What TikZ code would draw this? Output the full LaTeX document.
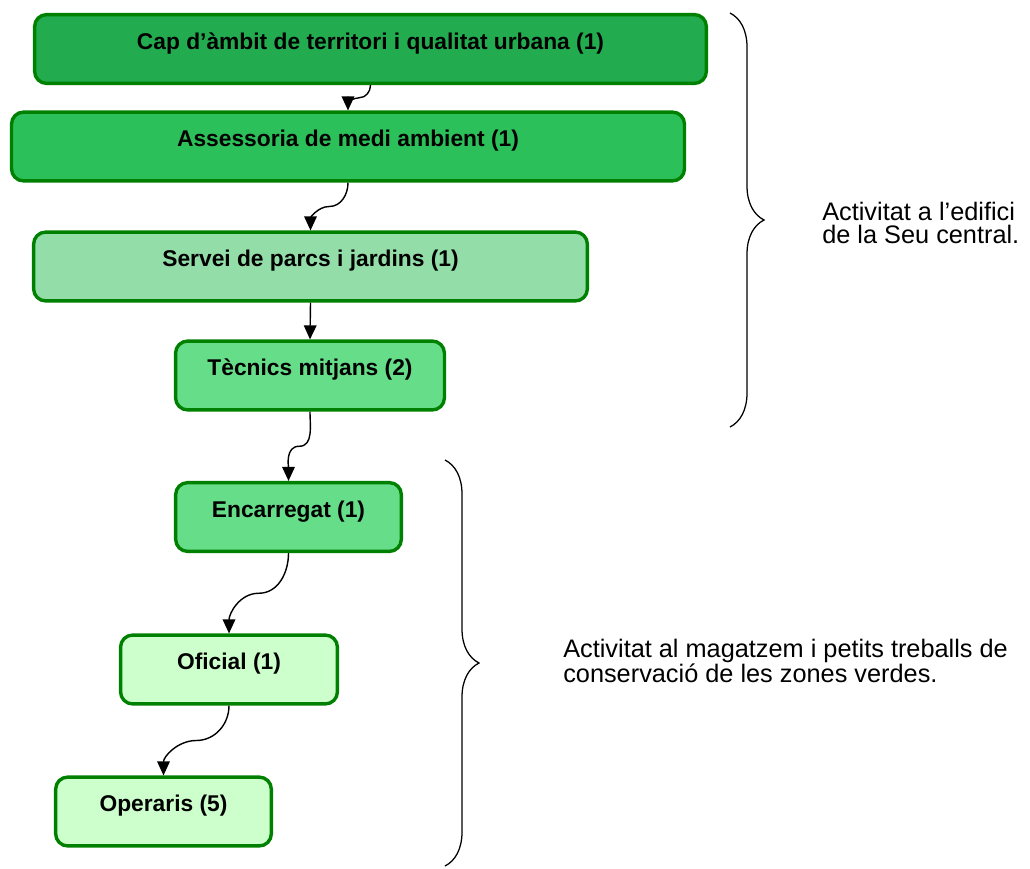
\documentclass[tikz,border=0pt]{standalone}
\usepackage{fontspec}
\setmainfont{Liberation Sans}
\usetikzlibrary{arrows.meta,calc,decorations.pathreplacing}
\definecolor{vora}{HTML}{008000}
\definecolor{verdfosc}{HTML}{23AC4F}
\definecolor{verdmig}{HTML}{2CC05A}
\definecolor{verdpal}{HTML}{93DDA8}
\definecolor{verdclar}{HTML}{66DD88}
\definecolor{verdblanc}{HTML}{CCFFCC}
\begin{document}
\begin{tikzpicture}[x=0.025cm, y=-0.025cm,
		caixa/.style={draw=vora, line width=2.4pt, rounded corners=0.3cm, inner xsep=0pt, inner ysep=0pt,
			text height=0.86cm, text depth=0.86cm, font=\bfseries\fontsize{16.2}{19}\selectfont},
		fletxa/.style={line width=1pt, -{Triangle[length=10pt,width=9pt]}},
		clau/.style={decorate, decoration={brace, amplitude=#1}, line width=0.9pt},
		clau/.default=0.85cm,
		nota/.style={align=left, inner sep=0pt, anchor=west, font=\fontsize{18}{16.8}\selectfont}
		]
	\path[use as bounding box] (0,0) rectangle (1030,868);
	\node [caixa, fill=verdfosc, minimum width=16.79cm] (cap) at (370.5,49) {Cap d’àmbit de territori i qualitat urbana (1)};
	\node [caixa, fill=verdmig, minimum width=16.82cm] (assessoria) at (348,146.5) {Assessoria de medi ambient (1)};
	\node [caixa, fill=verdpal, minimum width=13.84cm] (servei) at (310.5,266.5) {Servei de parcs i jardins (1)};
	\node [caixa, fill=verdclar, minimum width=6.72cm] (tecnics) at (310,375.5) {Tècnics mitjans (2)};
	\node [caixa, fill=verdclar, minimum width=5.64cm] (encarregat) at (288.5,517) {Encarregat (1)};
	\node [caixa, fill=verdblanc, minimum width=5.42cm] (oficial) at (229,669.5) {Oficial (1)};
	\node [caixa, fill=verdblanc, minimum width=5.39cm] (operaris) at (163.5,811.5) {Operaris (5)};
	\draw[fletxa] (cap.south) to[out=-90,in=0] ($(cap.south)!0.5!(assessoria.north)$) to[out=180,in=90] (assessoria.north);
	\draw[fletxa] (assessoria.south) to[out=-90,in=0] ($(assessoria.south)!0.5!(servei.north)$) to[out=180,in=90] (servei.north);
	\draw[fletxa] (servei.south) -- (tecnics.north);
	\draw[fletxa] (tecnics.south) to[out=-90,in=0] ($(tecnics.south)!0.5!(encarregat.north)$) to[out=180,in=90] (encarregat.north);
	\draw[fletxa] (encarregat.south) to[out=-90,in=0] ($(encarregat.south)!0.5!(oficial.north)$) to[out=180,in=90] (oficial.north);
	\draw[fletxa] (oficial.south) to[out=-90,in=0] ($(oficial.south)!0.5!(operaris.north)$) to[out=180,in=90] (operaris.north);
	\draw[clau] (730,13) -- (730,427);
	\draw[clau] (445,460) -- (445,866);
	\node [nota] (seu) at (822,223) {Activitat a l’edifici\\de la Seu central.};
	\node [nota] (magatzem) at (563,661) {Activitat al magatzem i petits treballs de\\conservació de les zones verdes.};
\end{tikzpicture}
\end{document}
